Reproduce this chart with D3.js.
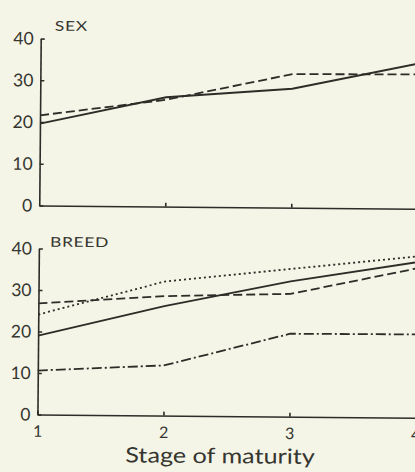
<!DOCTYPE html>
<html>
<head>
<meta charset="utf-8">
<script src="https://cdn.jsdelivr.net/npm/d3@7"></script>
<style>
  html, body { margin: 0; padding: 0; background: #f4f4e7; }
  svg { display: block; }
  text { font-family: Lato, "Open Sans", sans-serif; fill: #35362f; }
</style>
</head>
<body>
<svg id="chart" width="415" height="472"></svg>
<script>
// Stage of maturity on the x axis, percentage on the y axis
const stages = [1, 2, 3, 4];
const stageLabels = ["1", "2", "3", "4"];
const valueTicks = [0, 10, 20, 30, 40];

// SEX panel
const sexSolid  = [19.6, 26.2, 28.5, 34.8];
const sexDashed = [21.6, 25.6, 32.0, 32.2];

// BREED panel
const breedSolid   = [19.0, 26.4, 32.6, 37.5];
const breedDashed  = [26.8, 28.8, 29.6, 36.0];
const breedDotted  = [24.1, 32.3, 35.6, 38.9];
const breedDashDot = [10.6, 12.1, 20.0, 20.1];

const ink = "#2c2d27";
const dashStyles = {
  solid: null,
  dashed: "9,4",
  dotted: "2,3",
  dashdot: "10,3,2,3"
};

const panels = [
  {
    title: "SEX", yTop: 40, yBottom: 207, showStageLabels: false,
    series: [
      { values: sexSolid, style: "solid" },
      { values: sexDashed, style: "dashed" }
    ]
  },
  {
    title: "BREED", yTop: 250, yBottom: 416, showStageLabels: true,
    series: [
      { values: breedSolid, style: "solid" },
      { values: breedDashed, style: "dashed" },
      { values: breedDotted, style: "dotted" },
      { values: breedDashDot, style: "dashdot" }
    ]
  }
];

const svg = d3.select("#chart");
const root = svg.append("g").attr("transform", "rotate(0.5, 207, 236)");

const x = d3.scaleLinear().domain([1, 4]).range([39, 417]);

panels.forEach(p => {
  const y = d3.scaleLinear().domain([0, 40]).range([p.yBottom, p.yTop]);
  const g = root.append("g");

  // y axis with inward ticks
  const yAxis = g.append("g")
    .attr("transform", `translate(${x(1)},0)`)
    .call(d3.axisLeft(y).tickValues(valueTicks).tickSize(-4).tickSizeOuter(0).tickPadding(7));
  yAxis.selectAll("path, line").attr("stroke", ink).attr("stroke-width", 1.6);
  yAxis.selectAll("text")
    .style("font-size", "17.5px")
    .attr("fill", "#35362f");

  // x axis along zero
  const xAxis = g.append("g")
    .attr("transform", `translate(0,${y(0)})`)
    .call(d3.axisBottom(x)
      .tickValues(p.showStageLabels ? stages : [2, 3])
      .tickFormat((d, i) => p.showStageLabels ? stageLabels[stages.indexOf(d)] : "")
      .tickSize(-4).tickSizeOuter(0).tickPadding(11));
  xAxis.selectAll("path, line").attr("stroke", ink).attr("stroke-width", 1.6);
  xAxis.selectAll("text")
    .style("font-size", "16px")
    .attr("fill", "#35362f");

  // panel title
  g.append("text")
    .attr("transform", `translate(${p.title === "SEX" ? 53 : 50},${p.yTop - (p.title === "SEX" ? 8 : 2)}) scale(1.3,1)`)
    .style("font-size", "13.5px")
    .style("letter-spacing", "0.5px")
    .text(p.title);

  const line = d3.line()
    .x((d, i) => x(stages[i]))
    .y(d => y(d));

  p.series.forEach(s => {
    g.append("path")
      .datum(s.values)
      .attr("d", line)
      .attr("fill", "none")
      .attr("stroke", ink)
      .attr("stroke-width", 1.8)
      .attr("stroke-dasharray", dashStyles[s.style]);
  });
});

// x axis title
root.append("text")
  .attr("transform", "translate(222,463) scale(1.2,1)")
  .attr("text-anchor", "middle")
  .style("font-size", "21px")
  .text("Stage of maturity");
</script>
</body>
</html>
